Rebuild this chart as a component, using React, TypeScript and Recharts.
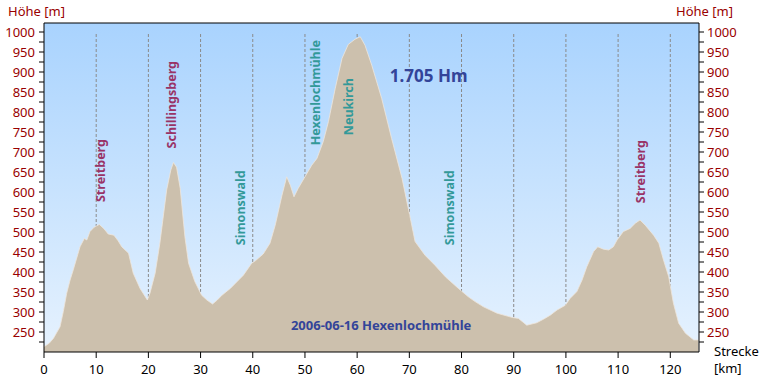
import { AreaChart, Area, XAxis, YAxis, CartesianGrid, ReferenceLine, ReferenceDot } from "recharts";

// Streckenprofil 2006-06-16 Hexenlochmühle
const strecke = [
	0, 1.0, 1.8, 3.07, 3.7, 4.35, 5.0, 5.6, 6.9, 7.73, 8.2, 8.8, 9.6, 10.6, 11.5, 12.3, 13.4, 14.2, 14.9, 16.2,
	17.1, 18.4, 19.8, 20.3, 21.3, 22.2, 23.5, 24.3, 24.8, 25.4, 26.1, 27.0, 27.7, 28.9, 30.2, 31.2, 32.3, 33.2,
	34.1, 35.7, 38.2, 39.8, 40.5, 42.0, 43.3, 44.3, 45.6, 46.5, 47.2, 47.9, 48.7, 50.0, 51.3, 52.3, 53.5, 54.5,
	55.8, 57.1, 58.3, 59.6, 60.6, 61.5, 62.8, 64.7, 66.6, 68.6, 70.2, 71.1, 73.0, 74.9, 76.9, 79.4, 81.3, 82.6,
	84.2, 86.8, 89.8, 90.9, 92.5, 94.4, 95.7, 97.0, 98.3, 99.9, 100.8, 102.1, 103.1, 104.0, 105.3, 106.1, 107.2,
	108.2, 109.1, 109.8, 111.0, 112.3, 113.3, 114.2, 115.2, 116.8, 117.8, 118.7, 119.7, 120.6, 121.6, 122.9,
	124.5, 125.4,
];
const hoehe = [
	213, 222, 234, 263, 301, 347, 380, 405, 463, 484, 480, 501, 512, 519, 508, 495, 492, 478, 463, 447,
	397, 359, 330, 347, 397, 472, 605, 655, 674, 662, 609, 488, 422, 376, 342, 330, 320, 330,
	342, 359, 392, 422, 428, 445, 472, 517, 592, 638, 617, 588, 609, 638, 667, 684, 726, 776,
	859, 934, 969, 982, 988, 967, 917, 834, 734, 634, 534, 476, 442, 417, 388, 359, 338, 326,
	313, 297, 286, 284, 267, 273, 282, 292, 305, 317, 334, 351, 380, 413, 451, 463, 457,
	455, 463, 480, 501, 509, 522, 530, 517, 492, 472, 430, 388, 322, 272, 247,
	230, 230,
];

const xTicks = [0, 10, 20, 30, 40, 50, 60, 70, 80, 90, 100, 110, 120];
const gridX = [10, 20, 30, 40, 50, 60, 70, 80, 90, 100, 110, 120];
const yTicks = [
	225, 250, 275, 300, 325, 350, 375, 400, 425, 450, 475, 500, 525, 550, 575, 600, 625, 650, 675, 700, 725,
	750, 775, 800, 825, 850, 875, 900, 925, 950, 975, 1000,
];

// Ortsnamen: [Name, km, Höhe am unteren Textende, Farbe]
const orte: [string, number, number, string][] = [
	["Streitberg", 10.9, 575, "#993366"],
	["Schillingsberg", 24.5, 709, "#993366"],
	["Simonswald", 37.6, 467, "#339999"],
	["Hexenlochmühle", 52.0, 717, "#339999"],
	["Neukirch", 58.4, 742, "#339999"],
	["Simonswald", 77.7, 467, "#339999"],
	["Streitberg", 114.3, 572, "#993366"],
];

const data = strecke.map((km, i) => ({ km, h: hoehe[i] }));

const font = "'Noto Sans', sans-serif";

const vLabel = (text: string, color: string) => (p: any) => (
	<text
		x={p.cx}
		y={p.cy}
		dy="0.35em"
		transform={`rotate(-90 ${p.cx} ${p.cy})`}
		textAnchor="start"
		fill={color}
		fontFamily={font}
		fontSize={12.5}
		fontWeight={700}
	>
		{text}
	</text>
);

const hLabel = (text: string, size: number) => (p: any) => (
	<text x={p.cx} y={p.cy} textAnchor="middle" fill="#334499" fontFamily={font} fontSize={size} fontWeight={700}>
		{text}
	</text>
);

const yTickFmt = (v: number) => (v % 50 === 0 ? String(v) : "");

export default function App() {
	return (
		<div style={{ position: "absolute", left: 0, top: 0, width: 762, height: 379, background: "#fff", fontFamily: font }}>
			<div style={{ position: "absolute", left: 8, top: 2, fontSize: 13, color: "#990000" }}>Höhe [m]</div>
			<div style={{ position: "absolute", left: 676, top: 2, fontSize: 13, color: "#990000" }}>Höhe [m]</div>
			<div style={{ position: "absolute", left: 714, top: 343, fontSize: 13, color: "#000", lineHeight: "17px" }}>
				Strecke
				<br />
				[km]
			</div>
			<AreaChart width={762} height={379} data={data} margin={{ top: 23, right: 0, bottom: 0, left: 0 }}>
				<defs>
					<linearGradient id="himmel" x1="0" y1="0" x2="0" y2="1">
						<stop offset="0%" stopColor="#a9d3fe" />
						<stop offset="100%" stopColor="#e6f2fe" />
					</linearGradient>
				</defs>
				<CartesianGrid fill="url(#himmel)" horizontal={false} vertical={false} />
				<XAxis
					dataKey="km"
					type="number"
					domain={[0, 125.5]}
					ticks={xTicks}
					allowDataOverflow
					height={27}
					tickSize={6}
					tickMargin={7}
					stroke="#000"
					tick={{ fill: "#000", fontSize: 13, fontFamily: font }}
				/>
				<YAxis
					yAxisId="l"
					domain={[200, 1022.5]}
					ticks={yTicks}
					allowDataOverflow
					width={44}
					tickSize={5}
					tickMargin={4}
					stroke="#000"
					interval={0}
					tickFormatter={yTickFmt}
					tick={{ fill: "#990000", fontSize: 13, fontFamily: font }}
				/>
				<YAxis
					yAxisId="r"
					orientation="right"
					domain={[200, 1022.5]}
					ticks={yTicks}
					allowDataOverflow
					width={63}
					tickSize={5}
					tickMargin={3}
					stroke="#000"
					interval={0}
					tickFormatter={yTickFmt}
					tick={{ fill: "#990000", fontSize: 13, fontFamily: font, textAnchor: "start" }}
				/>
				{gridX.map((x) => (
					<ReferenceLine
						key={x}
						yAxisId="l"
						segment={[
							{ x, y: 200 },
							{ x, y: 1000 },
						]}
						stroke="#8a8a8a"
						strokeDasharray="3 2"
						zIndex={50}
					/>
				))}
				<Area
					yAxisId="l"
					type="linear"
					dataKey="h"
					fill="#ccc0ad"
					fillOpacity={1}
					stroke="#efe6dc"
					strokeWidth={0.8}
					isAnimationActive={false}
					dot={false}
					activeDot={false}
				/>
				<ReferenceLine yAxisId="l" y={1022.5} stroke="#000" />
				{orte.map(([name, km, h, c], i) => (
					<ReferenceDot key={i} yAxisId="l" x={km} y={h} r={0} shape={vLabel(name, c)} />
				))}
				<ReferenceDot yAxisId="l" x={73.7} y={875} r={0} shape={hLabel("1.705 Hm", 17)} />
				<ReferenceDot yAxisId="l" x={64.6} y={255} r={0} shape={hLabel("2006-06-16 Hexenlochmühle", 13)} />
			</AreaChart>
		</div>
	);
}
